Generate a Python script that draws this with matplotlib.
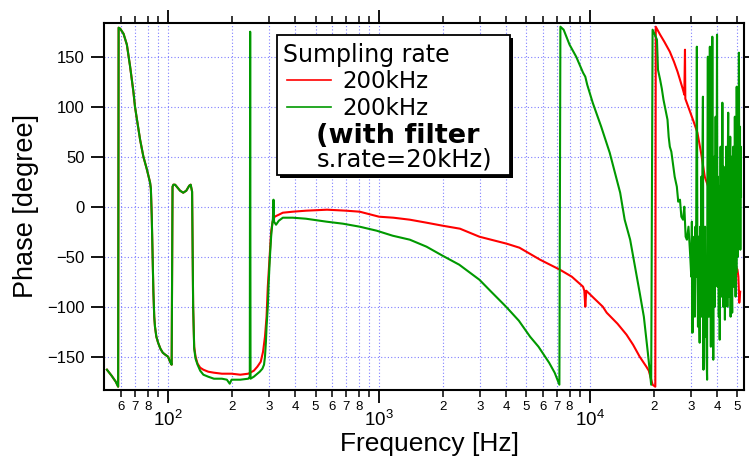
import matplotlib
matplotlib.use("Agg")
import matplotlib.pyplot as plt
from matplotlib.ticker import FixedLocator, FixedFormatter
from matplotlib.patches import Rectangle
from matplotlib.lines import Line2D

plt.rcParams["font.family"] = ["Liberation Sans", "DejaVu Sans"]
plt.rcParams["mathtext.fontset"] = "custom"
plt.rcParams["mathtext.rm"] = "Liberation Sans"

# shared low-frequency part (both traces lie on top of each other here)
low_freq = [51.3, 54, 56.5, 58.0, 58.3, 59.3, 61.5, 63.8, 66.1, 68.5, 69.7, 71.1, 73.7, 76.4,
            79.2, 80.7, 82.2, 82.9, 83.7, 84.5, 85.2, 86.0, 86.7, 88.0, 89.7, 92.0, 94.4, 97.0,
            100, 102.2, 104, 105, 106, 108, 110, 114, 118, 122, 126, 128, 130]
low_phase = [-163, -169, -175, -180, 179, 178, 173, 162, 140, 115, 100, 88, 67, 50,
             38, 31, 24, 18, -10, -50, -85, -110, -120, -130, -136, -142, -146, -148,
             -150, -155, -158, 20, 22, 22, 20, 16, 14, 16, 21, 22, 15]

# 200kHz sampling (red)
red_freq = [131.5, 133, 135, 138, 142, 147, 155, 165, 180, 200, 220, 240, 255, 265, 275,
            282, 288, 293, 297, 303, 308, 313, 320, 335, 350, 390, 450, 567, 700, 810,
            1000, 1170, 1400, 1680, 2000, 2420, 2990, 4030, 4630, 5800, 7200, 8200, 9270,
            9400, 9500, 9600, 10500, 11500, 12000, 13500, 14900, 16000, 17200, 18500, 19000,
            19800, 20400, 20500, 21500, 22500, 23900, 25000, 26000, 26700, 27500, 28000,
            28200, 28300, 29800, 31000, 32300, 33600, 35000, 38000, 40000, 42000, 44000,
            46000, 48000, 50000, 50500, 51000, 51500]
red_phase = [-100, -140, -150, -157, -161, -163, -165, -166, -167, -167, -168, -167, -164, -160, -155,
             -145, -130, -110, -80, -50, -25, -15, -10, -8, -6, -5, -4, -3, -4, -5,
             -10, -11, -13, -16, -19, -22, -30, -37, -41, -53, -63, -70, -80,
             -84, -100, -84, -92, -100, -106, -117, -128, -138, -150, -160, -164,
             -178, -180, 180, 172, 165, 155, 145, 135, 127, 118, 112,
             157, 108, 95, 85, 74, 54, 30, 8, -8, -22, -34,
             -45, -55, -63, -70, -96, -85]

# 200kHz with filter, s.rate=20kHz (green)
green_freq = [131.5, 133, 135, 138, 142, 147, 155, 165, 180, 190, 196, 200, 220, 240, 244,
              245, 246, 255, 265, 272, 280, 285, 288, 291, 293, 297, 300, 304, 308, 311,
              314, 316, 318, 325, 335, 350, 390, 450, 565, 675, 810, 975, 1160, 1400,
              1680, 2000, 2400, 2990, 3400, 4000, 4600, 5200, 5700, 6400, 6800, 7160,
              7240, 7500, 8000, 8600, 9270, 9500, 9700, 10300, 11300, 12400, 13900, 14600,
              15500, 17200, 18000, 18800, 19500, 19800, 20300, 20770, 21000, 21500, 21900,
              22300, 22800, 23300, 23600, 23900, 24300, 24700, 25200, 25800, 26200, 26700,
              27100, 27600, 28000, 28400, 28800, 29300, 29800,
              30200, 30400, 30600, 30800, 31000, 31200, 31400, 31600, 31800, 32000,
              32100, 32300, 32500, 32700, 32900, 33100, 33300, 33500, 33700, 33900,
              34100, 34300, 34500, 34700, 34900, 35100, 35300, 35500, 35700, 35900,
              36000, 36200, 36400, 36600, 36800, 37000, 37200, 37400, 37600, 37800,
              38000, 38200, 38400, 38600, 38800, 39000, 39200, 39400, 39600, 39800,
              40000, 40200, 40400, 40600, 40800, 41000, 41200, 41400, 41600, 41800,
              42000, 42200, 42400, 42600, 42800, 43000, 43200, 43400, 43600, 43800,
              44000, 44200, 44400, 44600, 44800, 45000, 45200, 45400, 45600, 45800,
              46000, 46200, 46400, 46600, 46800, 47000, 47200, 47400, 47600, 47800,
              48000, 48200, 48400, 48600, 48800, 49000, 49200, 49400, 49600, 49800,
              50000, 50200, 50400, 50600, 50800, 51000, 51200, 51400, 51600, 51800,
              52000]
green_phase = [-100, -142, -152, -158, -164, -168, -170, -172, -172, -173, -177, -173, -173, -172, -170,
               175, -172, -170, -167, -165, -162, -158, -150, -135, -120, -100, -75, -50, -30, -20,
               -12, 7, -15, -18, -14, -11, -11, -12, -15, -17, -20, -24, -29, -33,
               -40, -49, -58, -73, -85, -100, -114, -130, -140, -156, -166, -178,
               180, 177, 162, 150, 134, 130, 122, 104, 80, 54, 14, -13,
               -33, -86, -110, -146, -178, 177, 172, 167, 137, 127, 118,
               107, 97, 87, 70, 60, 55, 44, 30, 20, 5, 7,
               -10, -13, 0, -30, -33, -20, -46,
               -70, -15, -126, -40, -90, -30, -110, -20, -70, 100,
               160, -60, -120, -30, -100, -136, -20, -80, 30, -110,
               40, 110, -163, -30, -90, -20, -130, -50, -150, -173,
               20, 150, -60, -110, 30, 160, -20, -140, 10, -90,
               170, -40, -153, -10, 50, -100, -20, 90, -70, 0,
               172, -80, 30, -50, -110, 20, -133, -30, 60, -70,
               10, -90, 104, -40, -100, 40, -60, -10, -113, 30,
               -50, 60, -80, 0, -100, 50, 94, -40, -90, 30,
               -60, 70, -110, -20, 50, -70, -106, 20, -40, 60,
               -80, 10, -60, 90, -30, -90, 40, -66, 120, -20,
               30, -50, 110, -30, 154, 20, -40, 80, -43, 60,
               10]

x_major = [100, 1000, 10000]
x_major_labels = [r"$\mathregular{10^{2}}$", r"$\mathregular{10^{3}}$", r"$\mathregular{10^{4}}$"]
x_minor = [60, 70, 80, 90, 200, 300, 400, 500, 600, 700, 800, 900,
           2000, 3000, 4000, 5000, 6000, 7000, 8000, 9000, 20000, 30000, 40000, 50000]
x_minor_labels = ["6", "7", "8", "", "2", "3", "4", "5", "6", "7", "8", "",
                  "2", "3", "4", "5", "6", "7", "8", "", "2", "3", "4", "5"]
y_ticks = [-150, -100, -50, 0, 50, 100, 150]

W, H = 749, 457
fig = plt.figure(figsize=(W / 100, H / 100), dpi=100)
ax = fig.add_axes([104 / W, 1 - 390 / H, (744 - 104) / W, (390 - 23) / H])

ax.plot(low_freq + red_freq, low_phase + red_phase, color="#ff0000", lw=1.5)
ax.plot(low_freq + green_freq, low_phase + green_phase, color="#009900", lw=1.5)

ax.set_xscale("log")
ax.set_xlim(49.7, 53700)
ax.set_ylim(-183.3, 183.7)

ax.xaxis.set_major_locator(FixedLocator(x_major))
ax.xaxis.set_major_formatter(FixedFormatter(x_major_labels))
ax.xaxis.set_minor_locator(FixedLocator(x_minor))
ax.xaxis.set_minor_formatter(FixedFormatter(x_minor_labels))
ax.set_yticks(y_ticks)

ax.tick_params(axis="x", which="major", direction="out", length=9.5, width=1.3,
               labelsize=13.5, pad=5, top=True)
ax.tick_params(axis="x", which="minor", direction="out", length=5.2, width=1.1,
               labelsize=9.5, pad=3, top=True)
ax.tick_params(axis="y", direction="out", length=9.5, width=1.3, labelsize=12,
               pad=4.5, right=True)

for s in ax.spines.values():
    s.set_linewidth(1.5)

grid_kw = dict(color="#7f7fff", linestyle=(0, (1, 2)), linewidth=0.8)
ax.grid(True, which="both", axis="x", **grid_kw)
ax.grid(True, which="major", axis="y", **grid_kw)

fig.text(430 / W, 1 - 451 / H, "Frequency [Hz]", fontsize=19, ha="center", va="baseline")
fig.text(26 / W, 1 - 206 / H, "Phase [degree]", fontsize=19.5, rotation=90,
         ha="center", va="center")

# legend box drawn by hand (Igor style with shadow)
def fx(x):
    return x / W

def fy(y):
    return 1 - y / H

shadow = Rectangle((fx(280), fy(178)), (510 - 277) / W, (175 - 35) / H,
                   transform=fig.transFigure, facecolor="black", edgecolor="none", zorder=5)
box = Rectangle((fx(277), fy(175)), (510 - 277) / W, (175 - 35) / H,
                transform=fig.transFigure, facecolor="white", edgecolor="black",
                linewidth=1.3, zorder=6)
fig.add_artist(shadow)
fig.add_artist(box)
fig.add_artist(Line2D([fx(287), fx(331)], [fy(80), fy(80)], color="#ff0000", lw=1.2,
                      transform=fig.transFigure, zorder=7))
fig.add_artist(Line2D([fx(287), fx(331)], [fy(107), fy(107)], color="#009900", lw=1.2,
                      transform=fig.transFigure, zorder=7))
lg = dict(va="baseline", ha="left", family="DejaVu Sans", zorder=7)
fig.text(fx(283), fy(62), "Sumpling rate", fontsize=17, **lg)
fig.text(fx(342), fy(88), "200kHz", fontsize=16.5, **lg)
fig.text(fx(342), fy(115), "200kHz", fontsize=16.5, **lg)
fig.text(fx(316), fy(143), "(with filter", fontsize=19.5, fontweight="bold", **lg)
fig.text(fx(317), fy(167), "s.rate=20kHz)", fontsize=17.5, **lg)

fig.savefig("out.png", dpi=100)
